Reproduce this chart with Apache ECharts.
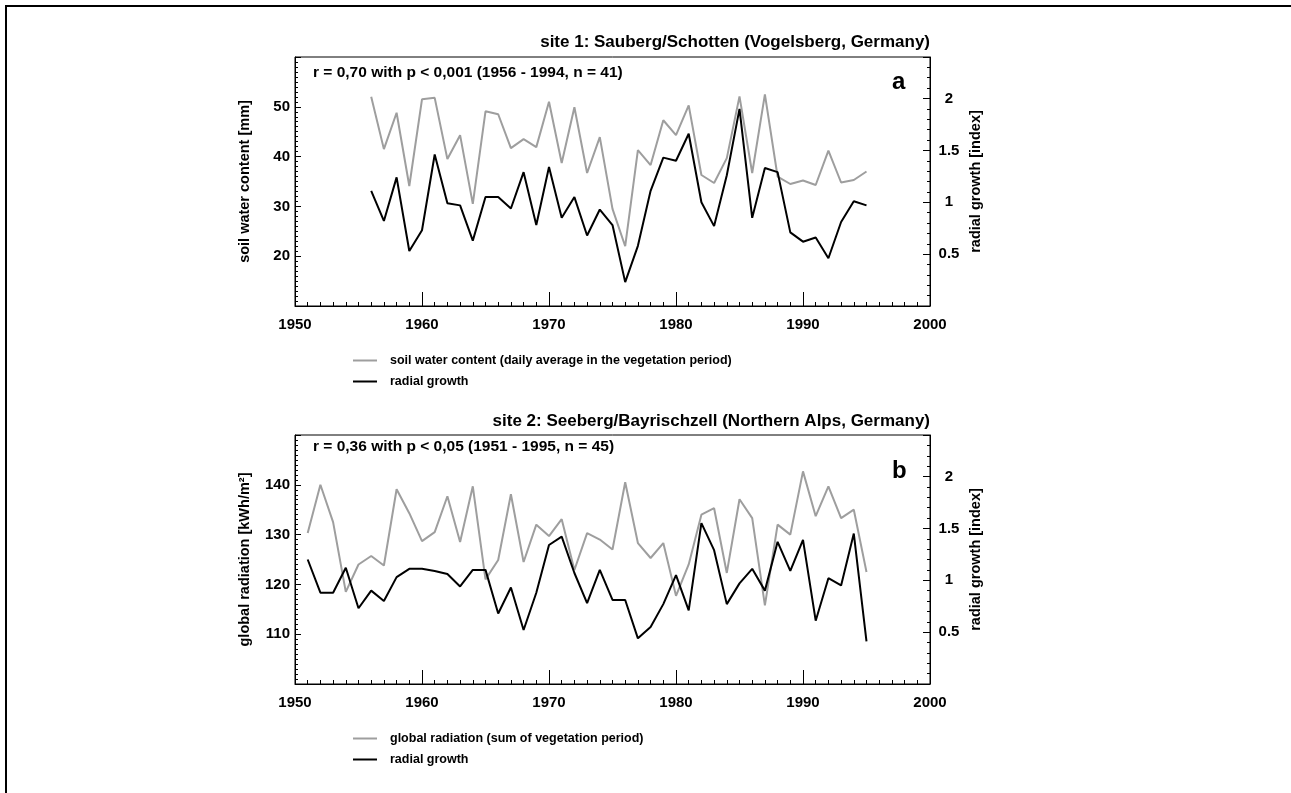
<!DOCTYPE html>
<html>
<head>
<meta charset="utf-8">
<title>soil water, radiation and radial growth</title>
<script src="https://cdn.jsdelivr.net/npm/echarts@6/dist/echarts.min.js"></script>
<style>
  html, body { margin: 0; padding: 0; background: #fff; }
  #chart { width: 1291px; height: 793px; }
</style>
</head>
<body>
<div id="chart"></div>
<script>
// site 1: Sauberg/Schotten
const years1 = [1956, 1957, 1958, 1959, 1960, 1961, 1962, 1963, 1964, 1965,
  1966, 1967, 1968, 1969, 1970, 1971, 1972, 1973, 1974, 1975,
  1976, 1977, 1978, 1979, 1980, 1981, 1982, 1983, 1984, 1985,
  1986, 1987, 1988, 1989, 1990, 1991, 1992, 1993, 1994, 1995];
const soilWater = [52.0, 41.5, 48.8, 34.1, 51.5, 51.8, 39.5, 44.3, 30.5, 49.1,
  48.5, 41.7, 43.5, 41.9, 51.0, 38.7, 49.9, 36.7, 43.9, 29.5,
  22.0, 41.3, 38.3, 47.3, 44.3, 50.3, 36.3, 34.7, 39.7, 52.1,
  36.7, 52.5, 36.0, 34.5, 35.2, 34.3, 41.2, 34.8, 35.3, 37.0];
const growth1 = [1.11, 0.82, 1.24, 0.53, 0.73, 1.46, 0.99, 0.97, 0.63, 1.05,
  1.05, 0.94, 1.29, 0.78, 1.34, 0.85, 1.05, 0.68, 0.93, 0.78,
  0.23, 0.58, 1.11, 1.43, 1.40, 1.66, 1.00, 0.77, 1.26, 1.90,
  0.85, 1.33, 1.29, 0.71, 0.62, 0.66, 0.46, 0.81, 1.01, 0.97];

// site 2: Seeberg/Bayrischzell
const years2 = [1951, 1952, 1953, 1954, 1955, 1956, 1957, 1958, 1959, 1960,
  1961, 1962, 1963, 1964, 1965, 1966, 1967, 1968, 1969, 1970,
  1971, 1972, 1973, 1974, 1975, 1976, 1977, 1978, 1979, 1980,
  1981, 1982, 1983, 1984, 1985, 1986, 1987, 1988, 1989, 1990,
  1991, 1992, 1993, 1994, 1995];
const radiation = [130.3, 140.0, 132.5, 118.5, 124.0, 125.7, 123.8, 139.1, 134.3, 128.7,
  130.5, 137.7, 128.5, 139.7, 121.0, 124.9, 138.1, 124.5, 132.0, 129.7,
  133.1, 122.9, 130.3, 129.0, 127.0, 140.5, 128.3, 125.3, 128.3, 117.7,
  124.0, 134.0, 135.3, 122.3, 137.1, 133.3, 115.8, 132.0, 130.0, 142.7,
  133.7, 139.7, 133.3, 135.0, 122.5];
const growth2 = [1.20, 0.88, 0.88, 1.12, 0.73, 0.90, 0.80, 1.03, 1.11, 1.11,
  1.09, 1.06, 0.94, 1.10, 1.10, 0.68, 0.93, 0.52, 0.88, 1.34,
  1.42, 1.07, 0.78, 1.10, 0.81, 0.81, 0.44, 0.55, 0.77, 1.05,
  0.71, 1.55, 1.29, 0.77, 0.97, 1.11, 0.90, 1.37, 1.09, 1.39,
  0.61, 1.02, 0.95, 1.45, 0.41];

const FONT = '"Liberation Sans", Arial, sans-serif';
const GRAY = '#9e9e9e';
const pairs = (xs, ys) => xs.map((x, i) => [x, ys[i]]);

const chart = echarts.init(document.getElementById('chart'));

// x axis: ticks inward, minor tick every year
function xAxisFor(gridIndex) {
  return {
    type: 'value', gridIndex: gridIndex,
    min: 1950, max: 2000, interval: 10,
    splitLine: { show: false },
    axisLine: { lineStyle: { color: '#000', width: 1 } },
    axisTick: { inside: true, length: 14, lineStyle: { color: '#000' } },
    minorTick: { show: true, splitNumber: 10, length: 4, lineStyle: { color: '#000' } },
    axisLabel: {
      color: '#000', fontFamily: FONT, fontSize: 15, fontWeight: 'bold', margin: 11,
      formatter: v => String(v)
    }
  };
}

function leftAxis(gridIndex, min, max, name) {
  return {
    type: 'value', gridIndex: gridIndex, position: 'left',
    min: min, max: max, interval: 10,
    name: name, nameLocation: 'middle', nameGap: 43,
    nameTextStyle: { color: '#000', fontFamily: FONT, fontSize: 14.5, fontWeight: 'bold' },
    splitLine: { show: false },
    axisLine: { show: true, lineStyle: { color: '#000', width: 1 } },
    axisTick: { inside: true, length: 6, lineStyle: { color: '#000' } },
    minorTick: { show: true, splitNumber: 10, length: 3, lineStyle: { color: '#000' } },
    axisLabel: {
      color: '#000', fontFamily: FONT, fontSize: 15, fontWeight: 'bold', margin: 5,
      showMinLabel: false, showMaxLabel: false
    }
  };
}

function rightAxis(gridIndex) {
  return {
    type: 'value', gridIndex: gridIndex, position: 'right',
    min: 0, max: 2.4, interval: 0.5,
    name: 'radial growth [index]', nameLocation: 'middle', nameGap: 38, nameRotate: 90,
    nameTextStyle: { color: '#000', fontFamily: FONT, fontSize: 14.5, fontWeight: 'bold' },
    splitLine: { show: false },
    axisLine: { show: true, lineStyle: { color: '#000', width: 1 } },
    axisTick: { inside: true, length: 7, lineStyle: { color: '#000' } },
    minorTick: { show: true, splitNumber: 5, length: 3, lineStyle: { color: '#000' } },
    axisLabel: {
      color: '#000', fontFamily: FONT, fontSize: 15, fontWeight: 'bold', margin: 19,
      align: 'center', showMinLabel: false, showMaxLabel: false
    }
  };
}

function lineSeries(name, data, color, xi, yi) {
  return {
    type: 'line', name: name, data: data,
    xAxisIndex: xi, yAxisIndex: yi,
    symbol: 'none', silent: true, animation: false,
    lineStyle: { color: color, width: 2 },
    itemStyle: { color: color }
  };
}

function legendAt(top, names) {
  return {
    orient: 'vertical', left: 348, top: top,
    icon: 'rect', itemWidth: 24, itemHeight: 2, itemGap: 8,
    selectedMode: false,
    data: names,
    textStyle: { color: '#000', fontFamily: FONT, fontSize: 12.5, fontWeight: 'bold', padding: [0, 0, 0, 8] }
  };
}

const soilName = 'soil water content (daily average in the vegetation period)';
const radName = 'global radiation (sum of vegetation period)';

const txt = (text, pos, size) => Object.assign({
  text: text, padding: 0,
  textStyle: { color: '#000', fontFamily: FONT, fontSize: size, fontWeight: 'bold' }
}, pos);

const option = {
  backgroundColor: '#fff',
  animation: false,
  title: [
    txt('site 1: Sauberg/Schotten (Vogelsberg, Germany)', { right: 361, top: 34 }, 17),
    txt('r = 0,70 with p < 0,001 (1956 - 1994, n = 41)', { left: 313, top: 65 }, 15.5),
    txt('a', { left: 892, top: 70 }, 24),
    txt('site 2: Seeberg/Bayrischzell (Northern Alps, Germany)', { right: 361, top: 413 }, 17),
    txt('r = 0,36 with p < 0,05 (1951 - 1995, n = 45)', { left: 313, top: 439 }, 15.5),
    txt('b', { left: 892, top: 459 }, 24)
  ],
  legend: [
    legendAt(349, [soilName, 'radial growth']),
    legendAt(727, [radName, 'radial growth'])
  ],
  grid: [
    { left: 295, top: 57, width: 635, height: 249, show: true, borderColor: '#000', borderWidth: 1 },
    { left: 295, top: 435, width: 635, height: 249, show: true, borderColor: '#000', borderWidth: 1 }
  ],
  xAxis: [xAxisFor(0), xAxisFor(1)],
  yAxis: [
    leftAxis(0, 10, 60, 'soil water content [mm]'),
    rightAxis(0),
    leftAxis(1, 100, 150, 'global radiation [kWh/m²]'),
    rightAxis(1)
  ],
  series: [
    lineSeries(soilName, pairs(years1, soilWater), GRAY, 0, 0),
    lineSeries('radial growth', pairs(years1, growth1), '#000', 0, 1),
    lineSeries(radName, pairs(years2, radiation), GRAY, 1, 2),
    lineSeries('radial growth', pairs(years2, growth2), '#000', 1, 3)
  ],
  graphic: [
    { type: 'line', silent: true, shape: { x1: 5, y1: 6, x2: 1291, y2: 6 }, style: { stroke: '#000', lineWidth: 2 } },
    { type: 'line', silent: true, shape: { x1: 6, y1: 5, x2: 6, y2: 793 }, style: { stroke: '#000', lineWidth: 2 } }
  ]
};

chart.setOption(option);
</script>
</body>
</html>
